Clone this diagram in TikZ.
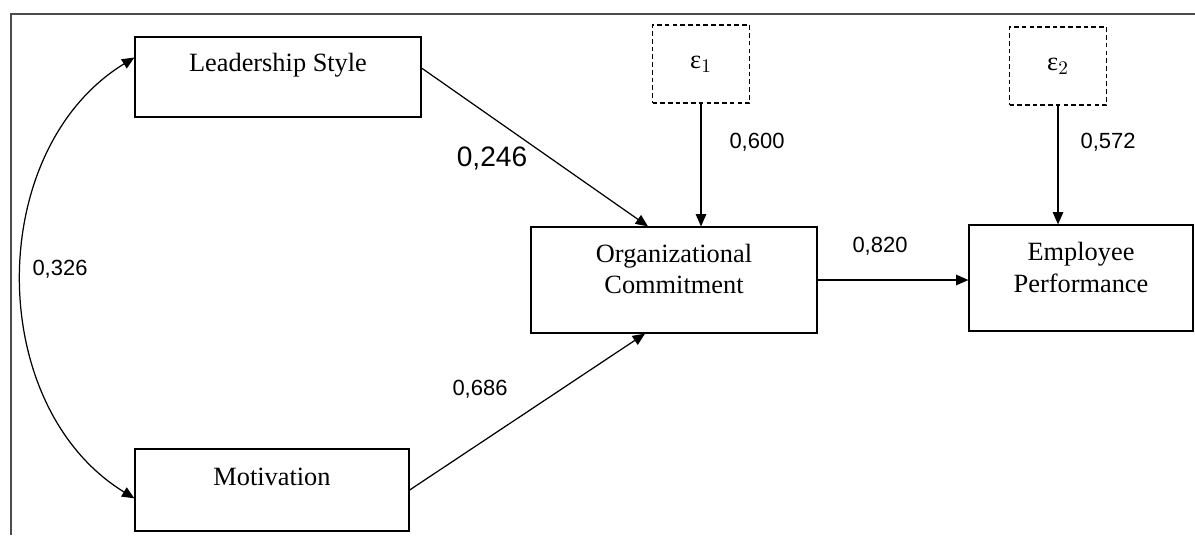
\documentclass[tikz,border=0pt]{standalone}
\usepackage{fontspec}
\setmainfont{Liberation Serif}
\newfontfamily\numfont{Liberation Sans}
\usetikzlibrary{calc,positioning,arrows.meta}

\begin{document}
\begin{tikzpicture}[x=0.02cm,y=-0.02cm]
\tikzset{var/.style={shape=rectangle,draw,align=center,line width=0.7pt,font=\fontsize{15}{18}\selectfont}}
\tikzset{err/.style={shape=rectangle,draw,dash pattern=on 2.6pt off 1.8pt,line width=0.7pt,minimum width=97*\px,minimum height=78*\px,font=\fontsize{15}{18}\selectfont}}
\tikzset{coef/.style={font=\numfont\fontsize{12.5}{15}\selectfont}}
\tikzset{effect/.style={draw,line width=0.7pt,-{Triangle[length=7pt,width=6pt]}}}
\tikzset{corr/.style={draw,line width=0.7pt,{Triangle[length=7pt,width=6pt]}-{Triangle[length=7pt,width=6pt]}}}
\def\px{0.02cm}
%
\useasboundingbox (0,0) rectangle (1195,535);
\draw[line width=1.1pt,black!70] (1195,14) -- (11,14) -- (11,535);
%
\node at (278,77) [var,minimum width=286*\px,minimum height=80*\px,text depth=0.6cm] (lead) {Leadership Style};
\node at (272,490) [var,minimum width=274*\px,minimum height=82*\px,text depth=0.52cm] (motiv) {Motivation};
\node at (674,280) [var,minimum width=286*\px,minimum height=106*\px,text depth=0.44cm] (orgc) {Organizational\\Commitment};
\node at (1081,278) [var,minimum width=224*\px,minimum height=106*\px,text depth=0.42cm] (empperf) {Employee\\Performance};
\node at (701,64) [err] (eps1) {ε$_1$};
\node at (1058,66) [err] (eps2) {ε$_2$};
%
\draw[effect] ($(lead.north east)!0.39!(lead.south east)$) -- ($(orgc.north)+(-26,0)$);
\draw[effect] (motiv.east) -- ($(orgc.south)+(-29,0)$);
\draw[effect] (eps1.south) -- (eps1.south |- orgc.north);
\draw[effect] (eps2.south) -- (eps2.south |- empperf.north);
\draw[effect] (orgc.east) -- (orgc.east -| empperf.west);
\draw[corr] ($(lead.north west)!0.26!(lead.south west)$) .. controls +(-150,92) and +(-150,-92) .. ($(motiv.north west)!0.6!(motiv.south west)$);
%
\node at (492,158) [coef,font=\numfont\fontsize{16}{19}\selectfont] (c246) {0,246};
\node at (480,389) [coef] (c686) {0,686};
\node at (757,142) [coef] (c600) {0,600};
\node at (1108,142) [coef] (c572) {0,572};
\node at (880,246) [coef] (c820) {0,820};
\node at (60,269) [coef] (c326) {0,326};
\end{tikzpicture}
\end{document}
